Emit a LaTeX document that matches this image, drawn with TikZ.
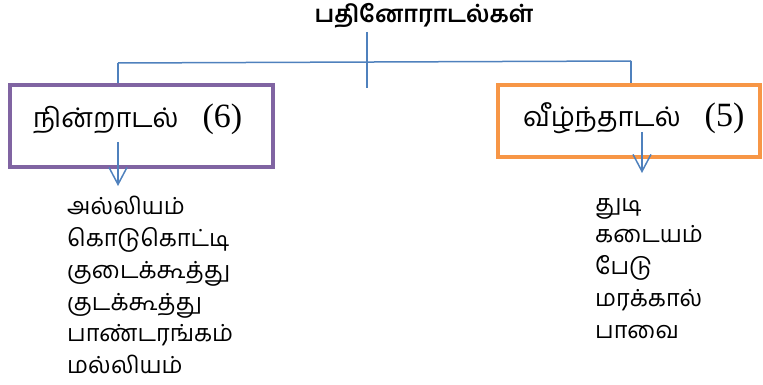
\documentclass[tikz,border=0pt]{standalone}
\usepackage{fontspec}
\setmainfont{Liberation Serif}
\newfontfamily\tamil[Script=Tamil]{Hind Madurai}
\usetikzlibrary{positioning, arrows.meta}

\definecolor{linkblue}{HTML}{4F81BD}
\definecolor{boxpurple}{HTML}{8064A2}
\definecolor{boxorange}{HTML}{F79646}

\tikzset{
  link/.style={draw=linkblue, line width=1.5pt},
  down/.style={link, -{Straight Barb[length=17pt, width=18pt]}},
  kind/.style={line width=4pt, minimum height=#1, inner sep=0pt},
  listing/.style={anchor=north west, align=left, inner sep=0pt,
    font=\tamil\fontsize{23.5}{31.8}\selectfont}
}
\newcommand{\kindname}[2]{{\tamil\fontsize{27}{32}\selectfont #1}\hspace{24pt}{\fontsize{34}{36}\selectfont (#2)}}

\begin{document}
\begin{tikzpicture}[x=1pt, y=-1pt]
\useasboundingbox (0,0) rectangle (763,385);

\node[font=\tamil\bfseries\fontsize{23.5}{26}\selectfont] (title) at (424,16) {பதினோராடல்கள்};

% the two kinds
\node[kind=82pt, draw=boxpurple, minimum width=263pt] (nin) at (141.5,126) {};
\node[kind=72pt, draw=boxorange, minimum width=262pt] (veez) at (629,121) {};
\node[anchor=west, inner sep=0pt] (nintext) at (33,119) {\kindname{நின்றாடல்}{6}};
\node[anchor=west, inner sep=0pt] (veeztext) at (523,118) {\kindname{வீழ்ந்தாடல்}{5}};

% branches
\coordinate (top) at (367,32);
\coordinate (stem) at (367,88);
\coordinate (lft) at (118,63);
\coordinate (rgt) at (631,61);
\draw[link] (top) -- (stem);
\draw[link] (lft) -- (rgt);
\draw[link] (lft) -- (lft |- nin.north);
\draw[link] (rgt) -- (rgt |- veez.north);

% lists
\node[listing] (ninlist) at (67,196) {அல்லியம்\\ கொடுகொட்டி\\ குடைக்கூத்து\\ குடக்கூத்து\\ பாண்டரங்கம்\\ மல்லியம்};
\node[listing] (veezlist) at (595,198) {துடி\\ கடையம்\\ பேடு\\ மரக்கால்\\ பாவை};

\coordinate (ninfoot) at (118,142);
\coordinate (veezfoot) at (642,132);
\draw[down] (ninfoot) -- (ninfoot |- 0,186);
\draw[down] (veezfoot) -- (veezfoot |- 0,173);
\end{tikzpicture}
\end{document}
